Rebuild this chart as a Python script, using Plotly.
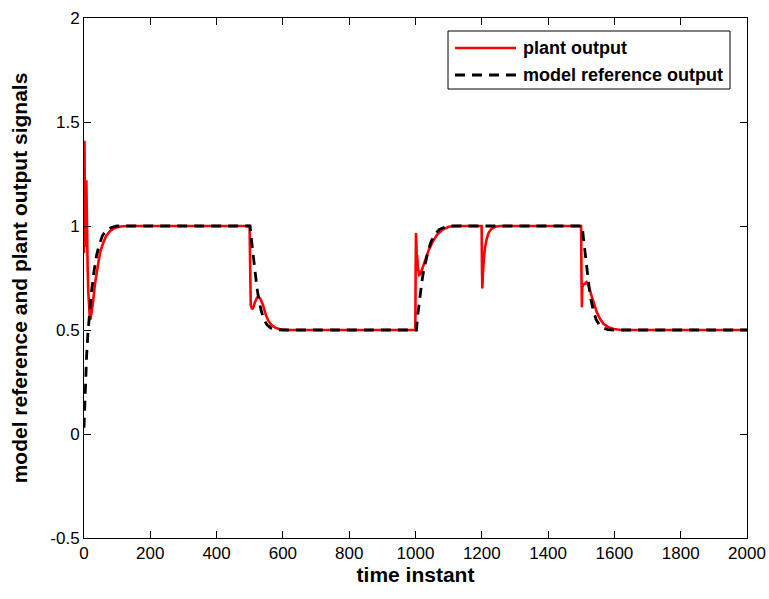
import plotly.graph_objects as go

# Plant output samples (time instant, value)
plant_t = [0, 1, 1.5, 2.5, 4, 5.5, 7, 8, 9.5, 11, 13, 16, 18, 20, 23, 27, 33, 40, 48, 56, 66, 78, 92, 110, 130,
           499.5, 500.5, 501.5, 503, 507, 511, 516, 522, 527, 532, 540, 548, 556, 565, 578, 595, 615,
           999.5, 1000.5, 1001.5, 1003, 1004, 1005, 1007, 1011, 1015, 1022, 1030, 1040, 1052, 1066, 1082, 1100, 1120,
           1199.5, 1200.5, 1201.5, 1203, 1206, 1210, 1215, 1220, 1228, 1240, 1255,
           1499.5, 1500.5, 1502, 1503, 1505, 1510, 1516, 1522, 1530, 1538, 1547, 1556, 1567, 1580, 1598, 1620,
           2000]
plant_v = [0.87, 1.2, 1.41, 1.1, 0.9, 0.95, 1.22, 1.05, 0.86, 0.8, 0.68, 0.58, 0.55, 0.555, 0.58, 0.63, 0.72, 0.8,
           0.87, 0.91, 0.95, 0.975, 0.99, 0.998, 1.0,
           1.0, 0.75, 0.66, 0.62, 0.6, 0.61, 0.635, 0.655, 0.66, 0.65, 0.62, 0.575, 0.545, 0.525, 0.51, 0.502, 0.5,
           0.5, 0.8, 0.966, 0.9, 0.82, 0.86, 0.8, 0.765, 0.77, 0.805, 0.845, 0.885, 0.925, 0.96, 0.983, 0.996, 1.0,
           1.0, 0.8, 0.70, 0.76, 0.84, 0.9, 0.94, 0.965, 0.985, 0.996, 1.0,
           1.0, 0.78, 0.61, 0.7, 0.72, 0.72, 0.73, 0.715, 0.67, 0.625, 0.585, 0.555, 0.53, 0.515, 0.505, 0.5,
           0.5]

# Model reference output samples (time instant, value)
ref_t = [0, 1, 3, 5, 8, 12, 17, 23, 30, 38, 46, 56, 68, 82, 100,
         501, 504, 508, 512, 517, 522, 528, 535, 543, 552, 563, 578, 600,
         1003, 1006, 1010, 1014, 1019, 1024, 1030, 1038, 1047, 1058, 1072, 1090, 1110,
         1503, 1506, 1510, 1514, 1519, 1524, 1530, 1537, 1545, 1554, 1565, 1580, 1600,
         2000]
ref_v = [0.03, 0.08, 0.18, 0.27, 0.38, 0.49, 0.59, 0.69, 0.78, 0.86, 0.91, 0.955, 0.98, 0.993, 1.0,
         1.0, 0.95, 0.89, 0.83, 0.76, 0.7, 0.64, 0.59, 0.55, 0.525, 0.51, 0.502, 0.5,
         0.5, 0.56, 0.62, 0.67, 0.73, 0.78, 0.83, 0.88, 0.925, 0.96, 0.983, 0.996, 1.0,
         1.0, 0.95, 0.89, 0.83, 0.76, 0.7, 0.64, 0.59, 0.55, 0.525, 0.51, 0.502, 0.5,
         0.5]

x_ticks = [0, 200, 400, 600, 800, 1000, 1200, 1400, 1600, 1800, 2000]
y_ticks = [-0.5, 0, 0.5, 1, 1.5, 2]
y_tick_labels = ["-0.5", "0", "0.5", "1", "1.5", "2"]

series_names = ["plant output", "model reference output"]
series_colors = ["#ff0000", "black"]
series_widths = [2.6, 2.8]
series_dash = ["solid", "10px,7px"]

FONT = "Liberation Sans, Arial, sans-serif"

fig = go.Figure()
fig.add_trace(go.Scatter(x=plant_t, y=plant_v, mode="lines", name=series_names[0], showlegend=False,
                         line=dict(color=series_colors[0], width=series_widths[0])))
fig.add_trace(go.Scatter(x=ref_t, y=ref_v, mode="lines", name=series_names[1], showlegend=False,
                         line=dict(color=series_colors[1], width=series_widths[1], dash=series_dash[1])))

axis_common = dict(showline=True, linecolor="black", linewidth=1, mirror="allticks",
                   ticks="inside", ticklen=7, tickwidth=1, tickcolor="black",
                   showgrid=False, zeroline=False, automargin=False,
                   tickfont=dict(family=FONT, size=17, color="black"))

fig.update_xaxes(range=[0, 2000], tickvals=x_ticks,
                 title=dict(text="<b>time instant</b>", font=dict(family=FONT, size=21, color="black"), standoff=3),
                 **axis_common)
fig.update_yaxes(range=[-0.5, 2], tickvals=y_ticks, ticktext=y_tick_labels,
                 title=dict(text="<b>model reference and plant output signals</b>",
                            font=dict(family=FONT, size=21, color="black"), standoff=16),
                 **axis_common)

# Boxed legend in the upper-right corner of the axes (paper coordinates)
PL, PR, PT, PB = 84, 747, 18, 538


def px(x):
    return (x - PL) / (PR - PL)


def py(y):
    return 1 - (y - PT) / (PB - PT)


shapes = [dict(type="rect", xref="paper", yref="paper",
               x0=px(448), x1=px(730), y0=py(89), y1=py(31),
               line=dict(color="black", width=1), fillcolor="white", layer="above")]
annotations = []
for i, row_y in enumerate([48, 75]):
    shapes.append(dict(type="line", xref="paper", yref="paper",
                       x0=px(455), x1=px(516), y0=py(row_y), y1=py(row_y), layer="above",
                       line=dict(color=series_colors[i], width=series_widths[i], dash=series_dash[i])))
    annotations.append(dict(xref="paper", yref="paper", x=px(521), y=py(row_y),
                            xanchor="left", yanchor="middle", showarrow=False,
                            text="<b>" + series_names[i] + "</b>",
                            font=dict(family=FONT, size=18, color="black")))

fig.update_layout(
    width=769, height=599,
    margin=dict(l=PL, r=769 - PR, t=PT, b=599 - PB),
    paper_bgcolor="white", plot_bgcolor="white",
    showlegend=False,
    shapes=shapes,
    annotations=annotations,
)

fig.write_html("out.html")
